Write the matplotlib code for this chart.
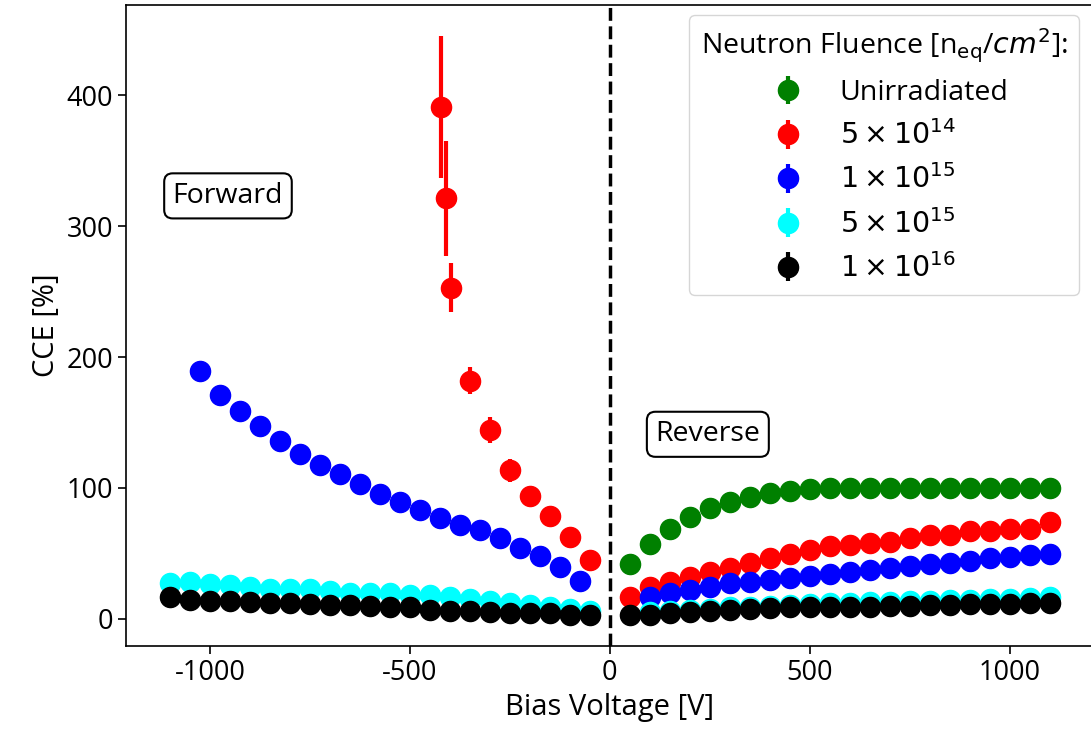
import matplotlib.pyplot as plt

plt.rcParams['font.family'] = ['Open Sans', 'DejaVu Sans']
plt.rcParams['axes.unicode_minus'] = False

# === data ===
labels = ["Unirradiated", r"$5\times10^{14}$", r"$1\times10^{15}$",
          r"$5\times10^{15}$", r"$1\times10^{16}$"]
colors = ["green", "red", "blue", "cyan", "black"]

v_pos = [50, 100, 150, 200, 250, 300, 350, 400, 450, 500, 550,
         600, 650, 700, 750, 800, 850, 900, 950, 1000, 1050, 1100]
v_neg = [-1100, -1050, -1000, -950, -900, -850, -800, -750, -700, -650, -600,
         -550, -500, -450, -400, -350, -300, -250, -200, -150, -100, -50]

# unirradiated (reverse only)
v_unirr = v_pos
cce_unirr = [42, 57, 68.5, 77.5, 85, 89.3, 93, 96, 97.7, 99, 99.7,
             100, 100, 100, 100, 100, 100, 100, 100, 100, 100, 100]
err_unirr = [1.5] * 22

# 5e14
v_5e14 = [-423, -411, -398, -350, -300, -250, -200, -150, -100, -50] + v_pos
cce_5e14 = [391, 321, 253, 182, 144, 113.5, 94, 78.5, 62.5, 45,
            17, 24.7, 28.5, 31.8, 36, 38.7, 42.5, 46.8, 49.4, 53, 55.5,
            56.5, 58.3, 59, 61.6, 64.5, 64.5, 67, 67.2, 68.5, 68.8, 74.3]
err_5e14 = [54, 44, 18.5, 10, 10, 8.6, 5, 4, 3, 3] + [2] * 22

# 1e15
v_1e15 = [-1025, -975, -925, -875, -825, -775, -725, -675, -625, -575,
          -525, -475, -425, -375, -325, -275, -225, -175, -125, -75] + v_pos[1:]
cce_1e15 = [189, 171, 159, 147, 135.6, 126, 117.6, 110.4, 103.3, 95.7,
            89.6, 83, 77.4, 71.8, 68.2, 61.6, 54.2, 47.8, 40, 29.2,
            16.5, 20.1, 22.1, 24.7, 27.2, 28.5, 29.8, 31.1, 32.8, 34.5,
            36.1, 37.4, 38.7, 40.5, 41.8, 43, 44.5, 46.3, 47.1, 48.9, 49.6]
err_1e15 = [1.5] * 41

# 5e15
v_5e15 = v_neg + v_pos[1:]
cce_5e15 = [27.7, 28.2, 26.7, 25.7, 24.2, 23.1, 22.6, 22.6, 21.6, 20.1, 19.6,
            19.6, 18.6, 18, 17, 15.5, 14, 12.5, 10.9, 9.4, 7.9, 6.3,
            5, 6, 7, 8, 9, 9.5, 10, 11, 11.5, 12, 12.5,
            13, 13, 13.5, 14, 14.5, 14.5, 15, 15.5, 16, 17]
err_5e15 = [1] * 43

# 1e16
v_1e16 = v_neg + v_pos
cce_1e16 = [16.5, 14.5, 14, 13.5, 13, 12, 12, 11.5, 10.7, 10.4, 9.9,
            9.4, 9.4, 6.9, 6.3, 6.3, 5.6, 4.8, 4.3, 4.3, 3.3, 2.8,
            3, 3, 4.3, 5.3, 6.3, 6.9, 7.4, 8.2, 8.9, 9.2, 9.3,
            9.4, 9.5, 9.9, 10.2, 10.7, 10.4, 11.2, 11.5, 11.5, 12, 12.5]
err_1e16 = [1] * 44

series = [
    (v_unirr, cce_unirr, err_unirr),
    (v_5e14, cce_5e14, err_5e14),
    (v_1e15, cce_1e15, err_1e15),
    (v_5e15, cce_5e15, err_5e15),
    (v_1e16, cce_1e16, err_1e16),
]

# === plot ===
fig = plt.figure(figsize=(10.91, 7.37), dpi=100)
ax = fig.add_axes([0.1155, 0.1235, 0.887, 0.8697])

for (x, y, e), c, lab in zip(series, colors, labels):
    ax.errorbar(x, y, yerr=e, fmt="o", color=c, ms=14.5,
                elinewidth=3, capsize=0, label=lab)

ax.axvline(0, color="black", linestyle="--", linewidth=2.5)

ax.text(-955, 323, "Forward", fontsize=20.5, ha="center", va="center",
        bbox=dict(boxstyle="round", fc="white", ec="black", lw=1.5))
ax.text(245, 141, "Reverse", fontsize=20.5, ha="center", va="center",
        bbox=dict(boxstyle="round", fc="white", ec="black", lw=1.5))

ax.set_xlim(-1210, 1210)
ax.set_ylim(-20.6, 468.7)
ax.set_xticks([-1000, -500, 0, 500, 1000])
ax.set_yticks([0, 100, 200, 300, 400])
ax.tick_params(labelsize=19.5, width=1.2, length=6)
for s in ax.spines.values():
    s.set_linewidth(1.2)

ax.set_xlabel("Bias Voltage [V]", fontsize=21)
ax.set_ylabel("CCE [%]", fontsize=21)

ax.legend(title=r"Neutron Fluence [n$_{\rm eq}$/$cm^2$]:", loc="upper right",
          bbox_to_anchor=(1079 / 1091, 1 - 15 / 737), bbox_transform=fig.transFigure,
          borderaxespad=0, fontsize=20.5, title_fontsize=20.5)

fig.savefig("out.png", dpi=100)
